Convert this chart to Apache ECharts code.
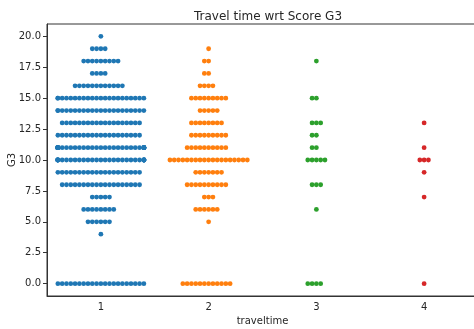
<!DOCTYPE html>
<html>
<head>
<meta charset="utf-8">
<style>
  html, body { margin: 0; padding: 0; background: #fff; }
  #chart { width: 474px; height: 329px; }
</style>
<script src="https://cdn.jsdelivr.net/npm/echarts@6/dist/echarts.min.js"></script>
</head>
<body>
<div id="chart"></div>
<script>
// Travel time categories and the final grade (G3) rows
const travelTimes = ['1', '2', '3', '4'];
const g3Values = [0, 4, 5, 6, 7, 8, 9, 10, 11, 12, 13, 14, 15, 16, 17, 18, 19, 20];

// Number of students at each G3 value, per travel time
const countsTt1 = [21, 1, 6, 8, 5, 19, 20, 29, 34, 20, 19, 22, 22, 12, 4, 9, 4, 1];
const countsTt2 = [12, 0, 1, 6, 3, 10, 7, 19, 10, 9, 8, 5, 9, 4, 2, 2, 1, 0];
const countsTt3 = [4, 0, 0, 1, 0, 3, 0, 5, 2, 2, 3, 0, 2, 0, 0, 1, 0, 0];
const countsTt4 = [1, 0, 0, 0, 1, 0, 1, 3, 1, 0, 1, 0, 0, 0, 0, 0, 0, 0];

const yTicks = [0, 2.5, 5, 7.5, 10, 12.5, 15, 17.5, 20];

const palette = ['#1f77b4', '#ff7f0e', '#2ca02c', '#d62728'];
const allCounts = [countsTt1, countsTt2, countsTt3, countsTt4];

// Swarm slot for the i-th point in a row: 0, -1, +1, -2, +2, ...
function slotOf(i) {
  if (i === 0) return 0;
  return (i % 2 === 1) ? -(i + 1) / 2 : i / 2;
}

const DOT_R = 2.4;
const DOT_STEP = 4.3;

const series = allCounts.map(function (counts, cat) {
  const data = [];
  counts.forEach(function (n, k) {
    for (let i = 0; i < n; i++) data.push([cat, g3Values[k], slotOf(i)]);
  });
  return {
    type: 'custom',
    name: travelTimes[cat],
    data: data,
    encode: { x: 0, y: 1 },
    renderItem: function (params, api) {
      const p = api.coord([api.value(0), api.value(1)]);
      const halfW = api.size([1, 0])[0] * 0.4;
      let dx = api.value(2) * DOT_STEP;
      dx = Math.max(-halfW, Math.min(halfW, dx));
      return {
        type: 'circle',
        shape: { cx: p[0] + dx, cy: p[1], r: DOT_R },
        style: { fill: palette[cat] }
      };
    }
  };
});

const textStyle = { fontFamily: 'DejaVu Sans', color: '#262626' };

const chart = echarts.init(document.getElementById('chart'), null, { renderer: 'canvas' });
chart.setOption({
  animation: false,
  backgroundColor: '#fff',
  title: {
    text: 'Travel time wrt Score G3',
    left: 263, top: 6, textAlign: 'center',
    textStyle: { fontFamily: 'DejaVu Sans', fontSize: 12, fontWeight: 'normal', color: '#262626' }
  },
  grid: {
    left: 47, top: 24, width: 431, height: 272,
    outerBoundsMode: 'none',
    containLabel: false,
    show: true, borderColor: '#333', borderWidth: 1, backgroundColor: 'transparent'
  },
  xAxis: {
    type: 'category',
    data: travelTimes,
    boundaryGap: true,
    name: 'traveltime',
    nameLocation: 'middle',
    nameGap: 20,
    nameMoveOverlap: false,
    nameTextStyle: Object.assign({ fontSize: 10 }, textStyle),
    axisLine: { onZero: false, lineStyle: { color: '#333', width: 1 } },
    axisTick: { alignWithLabel: true, length: 4, lineStyle: { color: '#333' } },
    axisLabel: Object.assign({ fontSize: 10, margin: 6 }, textStyle),
    splitLine: { show: false }
  },
  yAxis: {
    type: 'value',
    min: -1, max: 21,
    name: 'G3',
    nameLocation: 'middle',
    nameGap: 35,
    nameMoveOverlap: false,
    nameTextStyle: Object.assign({ fontSize: 10, verticalAlign: 'middle' }, textStyle),
    axisLine: { show: true, onZero: false, lineStyle: { color: '#333', width: 1 } },
    axisTick: { show: true, length: 4, customValues: yTicks, lineStyle: { color: '#333' } },
    axisLabel: Object.assign({
      fontSize: 10, margin: 6, customValues: yTicks,
      formatter: function (v) { return v.toFixed(1); }
    }, textStyle),
    splitLine: { show: false }
  },
  series: series
});
</script>
</body>
</html>
